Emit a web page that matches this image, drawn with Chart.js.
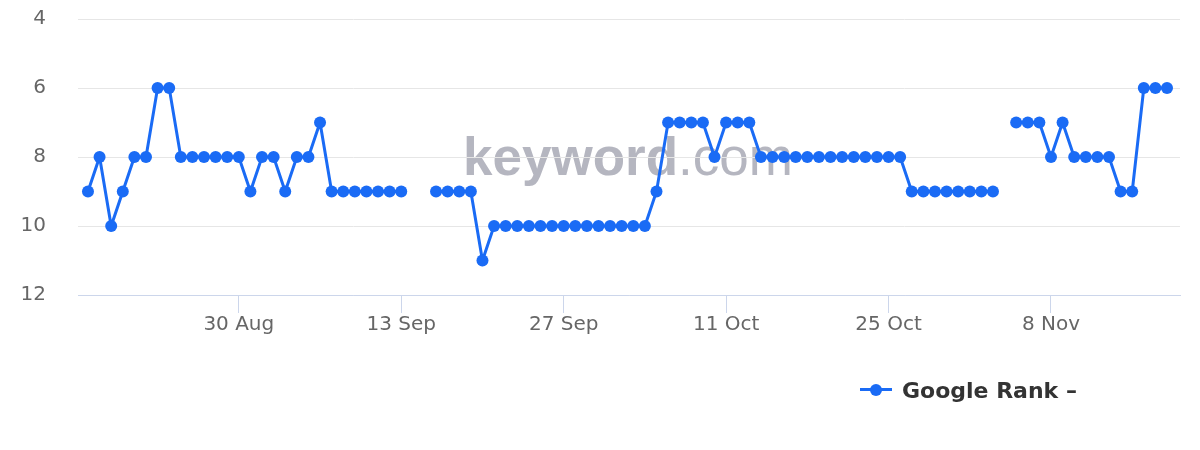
<!DOCTYPE html>
<html>
<head>
<meta charset="utf-8">
<script src="https://cdn.jsdelivr.net/npm/chart.js@4.4.1/dist/chart.umd.min.js"></script>
<style>
  body { margin: 0; background: #fff; }
  #wrap { position: relative; width: 1200px; height: 450px; }
  #legend {
    position: absolute; left: 860px; top: 376px;
    font-family: "DejaVu Sans", sans-serif; font-weight: bold; font-size: 22px; color: #333;
    display: flex; align-items: center; white-space: nowrap;
  }
  #legend .sym { position: relative; width: 32px; height: 28px; margin-right: 10px; }
  #legend .sym .ln { position: absolute; left: 0; top: 12px; width: 32px; height: 3px; background: #1a6bf5; }
  #legend .sym .dot { position: absolute; left: 10px; top: 7.5px; width: 12px; height: 12px; border-radius: 50%; background: #1a6bf5; }
</style>
</head>
<body>
<div id="wrap">
  <canvas id="rank_chart" width="1200" height="450"></canvas>
  <div id="legend"><div class="sym"><div class="ln"></div><div class="dot"></div></div>Google Rank –</div>
</div>
<script>
// one rank per day, starting 17 Aug; null = no data that day
const start_day = new Date(2023, 7, 17)
const ranks = [
    9, 8, 10, 9, 8, 8, 6, 6, 8, 8, 8, 8, 8, 8, 9, 8, 8, 9, 8, 8, 7, 9, 9, 9, 9, 9, 9, 9,
    null, null,
    9, 9, 9, 9, 11,
    10, 10, 10, 10, 10, 10, 10, 10, 10, 10, 10, 10, 10, 10,
    9, 7, 7, 7, 7, 8, 7, 7, 7,
    8, 8, 8, 8, 8, 8, 8, 8, 8, 8, 8, 8, 8,
    9, 9, 9, 9, 9, 9, 9, 9,
    null,
    7, 7, 7, 8, 7, 8, 8, 8, 8, 9, 9, 6, 6, 6
]
const tick_labels = ['30 Aug', '13 Sep', '27 Sep', '11 Oct', '25 Oct', '8 Nov']
const y_ticks = [4, 6, 8, 10, 12]

const months = ['Jan', 'Feb', 'Mar', 'Apr', 'May', 'Jun', 'Jul', 'Aug', 'Sep', 'Oct', 'Nov', 'Dec']
const dates = ranks.map((r, i) => {
    const d = new Date(start_day.getTime())
    d.setDate(d.getDate() + i)
    return d.getDate() + ' ' + months[d.getMonth()]
})
const tick_index = tick_labels.map(l => dates.indexOf(l))

const blue = '#1a6bf5'

const watermark = {
    id: 'watermark',
    beforeDraw(chart)
    {
        const ctx = chart.ctx
        ctx.save()
        ctx.fillStyle = '#b5b6c0'
        ctx.textBaseline = 'alphabetic'
        ctx.font = 'bold 53px "Liberation Sans", Arial, sans-serif'
        ctx.fillText('keyword', 463, 175)
        const w = ctx.measureText('keyword').width
        ctx.font = '53px "Liberation Sans", Arial, sans-serif'
        ctx.fillText('.com', 463 + w, 175)
        ctx.restore()
    }
}

let rank_chart = null

function load_rank_chart()
{
    const ctx = document.getElementById('rank_chart').getContext('2d')

    if(rank_chart)
        rank_chart.destroy()

    rank_chart = new Chart(ctx,
        {
            type: 'line',
            data: {
                datasets: [{
                    label: 'Google Rank –',
                    data: ranks.map((r, i) => ({x: i, y: r})),
                    borderColor: blue,
                    backgroundColor: blue,
                    borderWidth: 3,
                    pointRadius: 6,
                    pointBorderWidth: 0,
                    pointHoverRadius: 6,
                    spanGaps: false,
                    tension: 0
                }]
            },
            options: {
                responsive: false,
                animation: false,
                layout: { padding: { top: 19, right: 20, left: 0, bottom: 0 } },
                plugins: {
                    legend: { display: false },
                    tooltip: { enabled: false }
                },
                scales: {
                    x: {
                        type: 'linear',
                        min: -0.86,
                        max: 94.12,
                        afterBuildTicks: scale => { scale.ticks = tick_index.map(v => ({value: v})) },
                        afterFit: scale => { scale.height = 155 },
                        grid: { drawOnChartArea: false, drawTicks: true, tickLength: 18, color: '#ccd6eb', lineWidth: 1 },
                        border: { color: '#ccd6eb', width: 1 },
                        ticks: {
                            autoSkip: false,
                            maxRotation: 0,
                            padding: 0,
                            color: '#666666',
                            font: { family: 'DejaVu Sans', size: 20 },
                            callback: v => dates[v]
                        }
                    },
                    y: {
                        reverse: true,
                        min: 4,
                        max: 12,
                        afterBuildTicks: scale => { scale.ticks = y_ticks.map(v => ({value: v})) },
                        // labels sit 32px left of the plot; keep that gap out of the top padding
                        afterFit: scale => {
                            scale.width = 78
                            scale.paddingTop = 0
                            scale.paddingBottom = 0
                        },
                        grid: { color: '#e6e6e6', lineWidth: 1, drawTicks: false },
                        border: { display: false },
                        ticks: {
                            padding: 32,
                            color: '#666666',
                            font: { family: 'DejaVu Sans', size: 20 }
                        }
                    }
                }
            },
            plugins: [watermark]
        }
    )
}

function init()
{
    load_rank_chart()
}

init()
</script>
</body>
</html>
